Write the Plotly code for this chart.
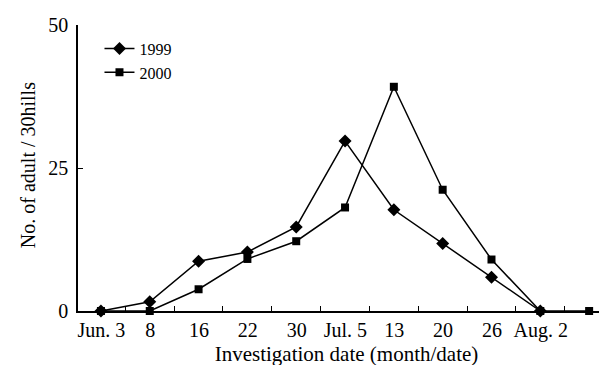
import plotly.graph_objects as go

dates = ["Jun. 3", "8", "16", "22", "30", "Jul. 5", "13", "20", "26", "Aug. 2", ""]
y1999 = [0, 1.6, 8.7, 10.3, 14.7, 29.7, 17.7, 11.8, 5.9, 0]
y2000 = [0, 0, 3.8, 9.1, 12.2, 18.1, 39.2, 21.2, 9.0, 0, 0]
y_ticks = [0, 25, 50]

FONT = "Liberation Serif, Times New Roman, serif"

x1999 = list(range(len(y1999)))
x2000 = list(range(len(y2000)))

fig = go.Figure()
fig.add_trace(go.Scatter(
    x=x1999, y=y1999, name="1999", mode="lines+markers",
    line=dict(color="black", width=1.5),
    marker=dict(symbol="diamond", size=10, color="black"),
    cliponaxis=False,
))
fig.add_trace(go.Scatter(
    x=x2000, y=y2000, name="2000", mode="lines+markers",
    line=dict(color="black", width=1.5),
    marker=dict(symbol="square", size=8, color="black"),
    cliponaxis=False,
))

n = len(dates)
plot_w = 607 - 70
step_px = plot_w / n

fig.update_layout(
    width=607, height=365,
    margin=dict(l=70, r=0, t=17, b=62),
    plot_bgcolor="white", paper_bgcolor="white",
    font=dict(family=FONT, size=20, color="black"),
    showlegend=True,
    legend=dict(
        x=0.040, y=0.977, xanchor="left", yanchor="top",
        bgcolor="rgba(0,0,0,0)", borderwidth=0,
        font=dict(family=FONT, size=16, color="black"),
        itemwidth=30, tracegroupgap=0,
    ),
    xaxis=dict(
        range=[-0.47, n - 0.47],
        tickmode="array",
        tickvals=[i + 0.5 for i in range(n)],
        ticktext=dates,
        ticklabelshift=-int(round(step_px / 2)),
        ticks="inside", ticklen=5, tickcolor="black", tickwidth=1.2,
        showline=True, linecolor="black", linewidth=1.5,
        showgrid=False, zeroline=False,
        tickfont=dict(family=FONT, size=20, color="black"),
        title=dict(text="Investigation date (month/date)",
                   font=dict(family=FONT, size=21, color="black"),
                   standoff=6),
    ),
    yaxis=dict(
        range=[0, 50],
        tickmode="array", tickvals=y_ticks,
        ticks="inside", ticklen=5, tickcolor="black", tickwidth=1.2,
        showline=True, linecolor="black", linewidth=1.5,
        showgrid=False, zeroline=False,
        ticklabelstandoff=4,
        tickfont=dict(family=FONT, size=20, color="black"),
    ),
    annotations=[dict(
        text="No. of adult / 30hills", textangle=-90,
        xref="paper", yref="paper",
        x=(20 - 70) / 537, y=0.51, xanchor="center", yanchor="middle",
        showarrow=False, font=dict(family=FONT, size=20, color="black"),
    )],
)

fig.write_html("out.html")
